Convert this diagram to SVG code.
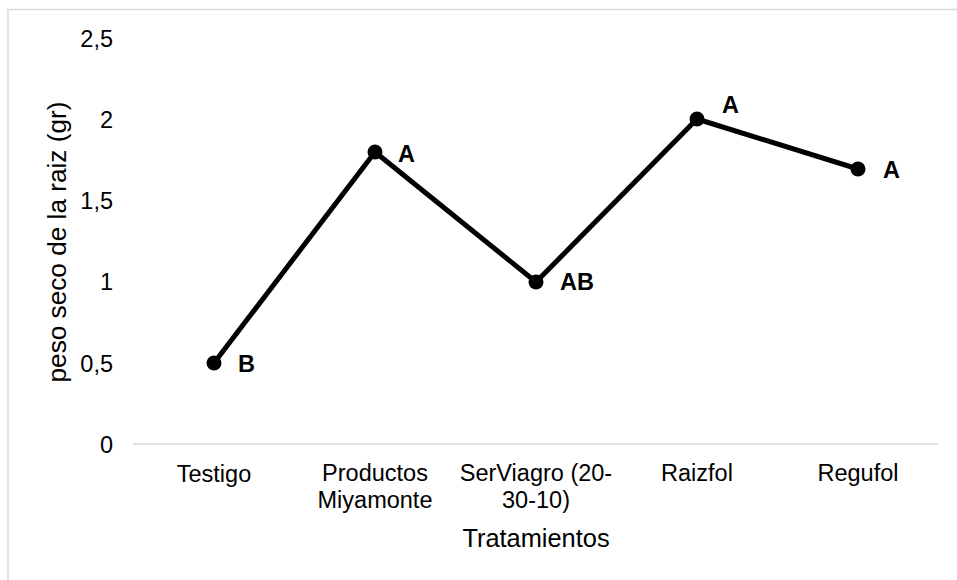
<svg xmlns="http://www.w3.org/2000/svg" width="957" height="580" viewBox="0 0 957 580">
<style>
text{font-family:"Liberation Sans",Arial,sans-serif;fill:#000}
.tick{font-size:23.5px;text-anchor:end}
.cat{font-size:23.5px;text-anchor:middle}
.title{font-size:25.4px;text-anchor:middle}
.lbl{font-size:23.5px;font-weight:bold}
.pt{fill:#000}
</style>
<rect x="8" y="9.5" width="970" height="590" fill="#fff" stroke="#d9d9d9" stroke-width="1.5"/>
<g id="axes">
<line x1="133" y1="444" x2="938" y2="444" stroke="#d9d9d9" stroke-width="1.5"/>
<text class="tick" x="113" y="452.5">0</text>
<text class="tick" x="113" y="371.5">0,5</text>
<text class="tick" x="113" y="290">1</text>
<text class="tick" x="113" y="209">1,5</text>
<text class="tick" x="113" y="128">2</text>
<text class="tick" x="113" y="47">2,5</text>
<text class="title" style="font-size:26.2px" transform="translate(65.5,242) rotate(-90)">peso seco de la raiz (gr)</text>
<text class="cat" x="214" y="481.5">Testigo</text>
<text class="cat" x="375" y="481">Productos</text>
<text class="cat" x="375" y="508">Miyamonte</text>
<text class="cat" x="536" y="481">SerViagro (20-</text>
<text class="cat" x="536" y="508">30-10)</text>
<text class="cat" x="697" y="481">Raizfol</text>
<text class="cat" x="858" y="481">Regufol</text>
<text class="title" x="536" y="547">Tratamientos</text>
</g>
<g id="connectors">
<polyline points="214,363 375,152 536,282 697,119 858,169" fill="none" stroke="#000" stroke-width="5" stroke-linejoin="round"/>
</g>
<g id="testigo"><circle class="pt" cx="214" cy="363" r="7.5"/><text class="lbl" x="238" y="372">B</text></g>
<g id="productos"><circle class="pt" cx="375" cy="152" r="7.5"/><text class="lbl" x="398" y="162">A</text></g>
<g id="serviagro"><circle class="pt" cx="536" cy="282" r="7.5"/><text class="lbl" x="560" y="290">AB</text></g>
<g id="raizfol"><circle class="pt" cx="697" cy="119" r="7.5"/><text class="lbl" x="722" y="113">A</text></g>
<g id="regufol"><circle class="pt" cx="858" cy="169" r="7.5"/><text class="lbl" x="883" y="178">A</text></g>
</svg>
